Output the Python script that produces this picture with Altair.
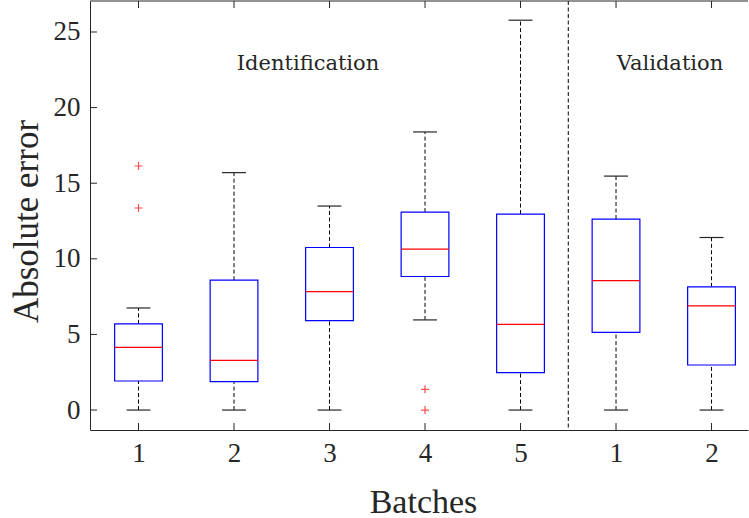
import altair as alt
import pandas as pd

# Box-plot summary per batch (positions 1-5 identification, 6-7 validation)
positions = [1, 2, 3, 4, 5, 6, 7]
tick_labels = ["1", "2", "3", "4", "5", "1", "2"]
whisker_low = [0.0, 0.0, 0.0, 5.96, 0.0, 0.0, 0.0]
q1 = [1.92, 1.88, 5.91, 8.83, 2.47, 5.14, 2.98]
median = [4.15, 3.29, 7.83, 10.64, 5.67, 8.56, 6.89]
q3 = [5.70, 8.59, 10.75, 13.09, 12.96, 12.63, 8.15]
whisker_high = [6.75, 15.70, 13.49, 18.39, 25.78, 15.47, 11.41]

# Outliers
outlier_pos = [1, 1, 4, 4]
outlier_val = [16.14, 13.36, 1.37, 0.0]

# Group labels and separator
group_names = ["Identification", "Validation"]
group_x = [2.775, 6.565]
group_y = [22.5, 22.5]
separator_x = [5.5]

y_ticks = [0, 5, 10, 15, 20, 25]

W, H = 658, 429
FONT = "Liberation Serif"
INK = "#262626"
BOX_HALF = 0.25
CAP_HALF = 0.125
DASH = [4, 2.5]

x_scale = alt.Scale(domain=[0.492, 7.382], nice=False, zero=False)
y_scale = alt.Scale(domain=[-1.32, 27.05], nice=False, zero=False)

label_expr = "[" + ",".join(f"'{t}'" for t in tick_labels) + "][datum.value - 1]"

x_axis = alt.Axis(values=positions, labelExpr=label_expr, title="Batches",
                  ticks=False, grid=False, labelPadding=10, titlePadding=19,
                  titleX=333, domainColor=INK, labelFontSize=27, titleFontSize=34,
                  labelFont=FONT, titleFont=FONT, labelColor=INK, titleColor=INK,
                  titleFontWeight="normal")
y_axis = alt.Axis(values=y_ticks, title="Absolute error", ticks=False, grid=False,
                  labelPadding=10, titlePadding=9, titleY=220, domainColor=INK,
                  labelFontSize=27, titleFontSize=35, labelFont=FONT, titleFont=FONT,
                  labelColor=INK, titleColor=INK, titleFontWeight="normal")


def X(field, **kw):
    return alt.X(field, type="quantitative", scale=x_scale, axis=x_axis, **kw)


def Y(field, **kw):
    return alt.Y(field, type="quantitative", scale=y_scale, axis=y_axis, **kw)


box_df = pd.DataFrame({
    "pos": positions, "lo": whisker_low, "q1": q1, "med": median,
    "q3": q3, "hi": whisker_high,
})
box_base = alt.Chart(box_df).transform_calculate(
    bx1=f"datum.pos - {BOX_HALF}", bx2=f"datum.pos + {BOX_HALF}",
    cx1=f"datum.pos - {CAP_HALF}", cx2=f"datum.pos + {CAP_HALF}",
)

whisker_up = box_base.mark_rule(color="black", strokeDash=DASH, strokeWidth=1).encode(
    x=X("pos"), y=Y("q3"), y2="hi:Q")
whisker_dn = box_base.mark_rule(color="black", strokeDash=DASH, strokeWidth=1).encode(
    x=X("pos"), y=Y("lo"), y2="q1:Q")
cap_hi = box_base.mark_rule(color=INK, strokeWidth=1.2).encode(
    x=X("cx1"), x2="cx2:Q", y=Y("hi"))
cap_lo = box_base.mark_rule(color=INK, strokeWidth=1.2).encode(
    x=X("cx1"), x2="cx2:Q", y=Y("lo"))
boxes = box_base.mark_rect(fill="white", stroke="#0000ff", strokeWidth=1.2).encode(
    x=X("bx1"), x2="bx2:Q", y=Y("q1"), y2="q3:Q")
medians = box_base.mark_rule(color="#ff0000", strokeWidth=1.2).encode(
    x=X("bx1"), x2="bx2:Q", y=Y("med"))

outliers = alt.Chart(pd.DataFrame({"pos": outlier_pos, "val": outlier_val})).mark_point(
    shape="M-1,0L1,0M0,-1L0,1", size=64, stroke="#ff0000", strokeWidth=1.2, filled=False
).encode(x=X("pos"), y=Y("val"))

separator = alt.Chart(pd.DataFrame({"sx": separator_x})).mark_rule(
    color="black", strokeDash=DASH, strokeWidth=1
).encode(x=X("sx"), y=alt.value(0), y2=alt.value(H))

# Group captions, drawn in a serif face
annotations = alt.Chart(pd.DataFrame({"name": group_names, "gx": group_x, "gy": group_y})).mark_text(
    font="DejaVu Serif", fontSize=21, fontWeight="normal", color=INK,
    align="center", baseline="alphabetic"
).encode(x=X("gx"), y=Y("gy"), text="name:N")

# Inward tick marks on left, bottom and top edges
ytick_marks = alt.Chart(pd.DataFrame({"v": y_ticks})).mark_rule(color=INK, strokeWidth=1).encode(
    y=Y("v"), x=alt.value(0), x2=alt.value(7))
xtick_bottom = alt.Chart(pd.DataFrame({"v": positions})).mark_rule(color=INK, strokeWidth=1).encode(
    x=X("v"), y=alt.value(H), y2=alt.value(H - 7))
xtick_top = alt.Chart(pd.DataFrame({"v": positions})).mark_rule(color=INK, strokeWidth=1).encode(
    x=X("v"), y=alt.value(0), y2=alt.value(7))
top_border = alt.Chart(pd.DataFrame({"v": [0]})).mark_rule(color=INK, strokeWidth=1).encode(
    x=alt.value(0), x2=alt.value(W), y=alt.value(0))

chart = alt.layer(
    separator, whisker_up, whisker_dn, cap_hi, cap_lo, boxes, medians, outliers,
    annotations, ytick_marks, xtick_bottom, xtick_top, top_border,
).properties(
    width=W, height=H,
    autosize=alt.AutoSizeParams(type="none"),
    padding={"left": 90, "top": 1, "right": 1, "bottom": 88},
).configure(
    background="white", font=FONT
).configure_view(stroke=None)

chart.save("out.html", embed_options={"renderer": "svg", "actions": False})
